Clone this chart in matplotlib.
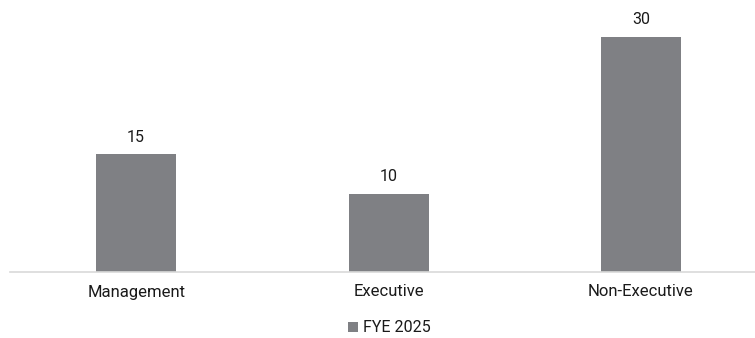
import matplotlib.pyplot as plt
from matplotlib.patches import Patch

plt.rcParams['font.family'] = ['Roboto', 'DejaVu Sans']

categories = ["Management", "Executive", "Non-Executive"]
values = [15, 10, 30]
series_name = "FYE 2025"

bar_color = "#7F8084"
text_color = "#1a1a1a"

fig = plt.figure(figsize=(7.55, 3.38), dpi=100)
ax = fig.add_axes([10 / 755, 66 / 338, 745 / 755, 272 / 338])

x = range(len(categories))
bars = ax.bar(x, values, width=0.317, color=bar_color, zorder=2)

# value labels above each bar
for rect, v in zip(bars, values):
    ax.annotate(f"{v}", (rect.get_x() + rect.get_width() / 2, v),
                xytext=(0, 7), textcoords="offset points",
                ha="center", va="bottom", fontsize=11.5, color=text_color)

ax.set_xlim(-0.5, 2.452)
ax.set_ylim(0, 34.72)
ax.set_xticks(list(x))
ax.set_xticklabels(categories, fontsize=12, color=text_color)
ax.tick_params(axis="x", length=0, pad=9)
ax.set_yticks([])

for side in ["top", "right", "left"]:
    ax.spines[side].set_visible(False)
ax.spines["bottom"].set_color("#d9d9d9")
ax.spines["bottom"].set_linewidth(1.2)

handles = [Patch(facecolor=bar_color, edgecolor="none", label=series_name)]
fig.legend(handles=handles, loc="center", bbox_to_anchor=(389 / 755, 1 - 328 / 338),
           frameon=False, fontsize=11.5, handlelength=0.65, handleheight=0.65,
           handletextpad=0.3, labelcolor=text_color)

fig.savefig("out.png", dpi=100)
